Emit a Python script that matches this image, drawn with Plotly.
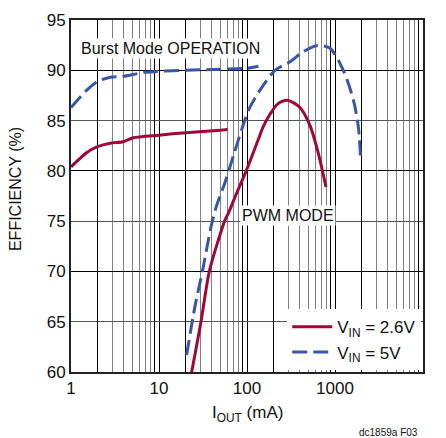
import plotly.graph_objects as go

# ---- data ----
burst_26_x = [1, 1.5, 2, 2.8, 3.9, 5.1, 10, 20, 50, 60]
burst_26_y = [80.4, 81.8, 82.4, 82.75, 82.9, 83.3, 83.55, 83.8, 84.05, 84.1]

burst_5_x = [1, 1.5, 2, 2.8, 3.9, 7, 20, 50, 100, 135]
burst_5_y = [86.3, 88.0, 88.9, 89.3, 89.4, 89.8, 90.0, 90.1, 90.2, 90.4]

pwm_26_x = [23.5, 30, 37.3, 47.2, 56.2, 61.5, 76, 99, 134, 153, 179, 217, 250, 295, 400, 520, 646, 790]
pwm_26_y = [60.0, 65.0, 70.0, 73.1, 75.1, 75.8, 77.75, 80.1, 83.1, 84.4, 85.5, 86.55, 86.9, 87.0, 86.3, 84.5, 81.75, 78.4]

pwm_5_x = [20.6, 25.6, 31.3, 38.7, 45, 56, 70, 87, 105, 140, 208, 308, 436, 618, 876, 1242, 1617, 1840, 1953]
pwm_5_y = [61.7, 66.5, 70.1, 74.3, 76.5, 78.8, 81.5, 84.1, 86.1, 88.0, 90.0, 90.85, 91.85, 92.45, 92.2, 90.0, 87.05, 84.4, 81.3]

x_ticks = [1, 10, 100, 1000, 10000]
x_ticktext = ["1", "10", "100", "1000", "10000"]
y_ticks = [60, 65, 70, 75, 80, 85, 90, 95]
x_dark_grid = [2, 9, 20, 90, 200, 900, 2000, 9000]
y_dark_grid = [70, 80, 90]

RED = "#A0063A"
BLUE = "#3A56A8"
FONT = "Liberation Sans, Arial, sans-serif"
DASH = "15px,6px"

fig = go.Figure()

fig.add_trace(go.Scatter(x=burst_26_x, y=burst_26_y, mode="lines",
                         line=dict(color=RED, width=3, shape="spline", smoothing=0.6),
                         showlegend=False, hoverinfo="skip"))
fig.add_trace(go.Scatter(x=burst_5_x, y=burst_5_y, mode="lines",
                         line=dict(color=BLUE, width=3, dash=DASH, shape="spline", smoothing=0.6),
                         showlegend=False, hoverinfo="skip"))
fig.add_trace(go.Scatter(x=pwm_26_x, y=pwm_26_y, mode="lines",
                         line=dict(color=RED, width=3, shape="spline", smoothing=0.8),
                         name="V<sub>IN</sub> = 2.6V", hoverinfo="skip"))
fig.add_trace(go.Scatter(x=pwm_5_x, y=pwm_5_y, mode="lines",
                         line=dict(color=BLUE, width=3, dash=DASH, shape="spline", smoothing=0.8),
                         name="V<sub>IN</sub> = 5V", hoverinfo="skip"))
# invisible trace to activate the overlay axes carrying the dark grid lines
fig.add_trace(go.Scatter(x=[1], y=[60], xaxis="x2", yaxis="y2", mode="markers",
                         marker=dict(opacity=0), showlegend=False, hoverinfo="skip"))

fig.update_layout(
    width=438, height=430,
    margin=dict(l=63, r=23, t=12, b=66, autoexpand=False),
    paper_bgcolor="white", plot_bgcolor="white",
    font=dict(family=FONT, size=17, color="#111"),
    xaxis=dict(type="log", range=[0, 4], tickvals=x_ticks, ticktext=x_ticktext, automargin=False,
               showgrid=True, gridcolor="#000", gridwidth=1.3,
               minor=dict(dtick="D1", showgrid=True, gridcolor="#808080", gridwidth=1.3),
               showline=True, linecolor="#222", linewidth=2, mirror=True,
               ticks="", zeroline=False, tickfont=dict(size=17)),
    yaxis=dict(range=[60, 95], tickvals=y_ticks, automargin=False,
               showgrid=True, gridcolor="#555", gridwidth=1.3,
               showline=True, linecolor="#222", linewidth=2, mirror=True,
               ticks="", zeroline=False, tickfont=dict(size=17)),
    xaxis2=dict(type="log", range=[0, 4], overlaying="x", tickvals=x_dark_grid, showticklabels=False,
                automargin=False,
                showgrid=True, gridcolor="#000", gridwidth=1.3, ticks="", zeroline=False, showline=False),
    yaxis2=dict(range=[60, 95], overlaying="y", tickvals=y_dark_grid, showticklabels=False,
                automargin=False,
                showgrid=True, gridcolor="#000", gridwidth=1.3, ticks="", zeroline=False, showline=False),
    legend=dict(x=0.995, xanchor="right", y=0.005, yanchor="bottom", bgcolor="white",
                font=dict(family=FONT, size=17), tracegroupgap=0, itemwidth=40),
    showlegend=True,
)

fig.add_annotation(text="Burst Mode OPERATION", xref="paper", yref="paper", x=0.284, y=0.92,
                   xanchor="center", yanchor="middle",
                   showarrow=False, bgcolor="white", font=dict(size=16))
fig.add_annotation(text="PWM MODE", xref="paper", yref="paper", x=0.616, y=0.446,
                   xanchor="center", yanchor="middle",
                   showarrow=False, bgcolor="white", font=dict(size=16))
fig.add_annotation(text="EFFICIENCY (%)", xref="paper", yref="paper", x=-0.156, y=0.52, textangle=-90,
                   xanchor="center", yanchor="middle",
                   showarrow=False, font=dict(size=16))
fig.add_annotation(text="I<sub>OUT</sub> (mA)", xref="paper", yref="paper", x=0.5, y=-0.119,
                   xanchor="center", yanchor="middle",
                   showarrow=False, font=dict(size=17))
fig.add_annotation(text="dc1859a F03", xref="paper", yref="paper", x=0.991, y=-0.173,
                   xanchor="right", yanchor="middle",
                   showarrow=False, font=dict(size=10))

fig.write_html("out.html")
